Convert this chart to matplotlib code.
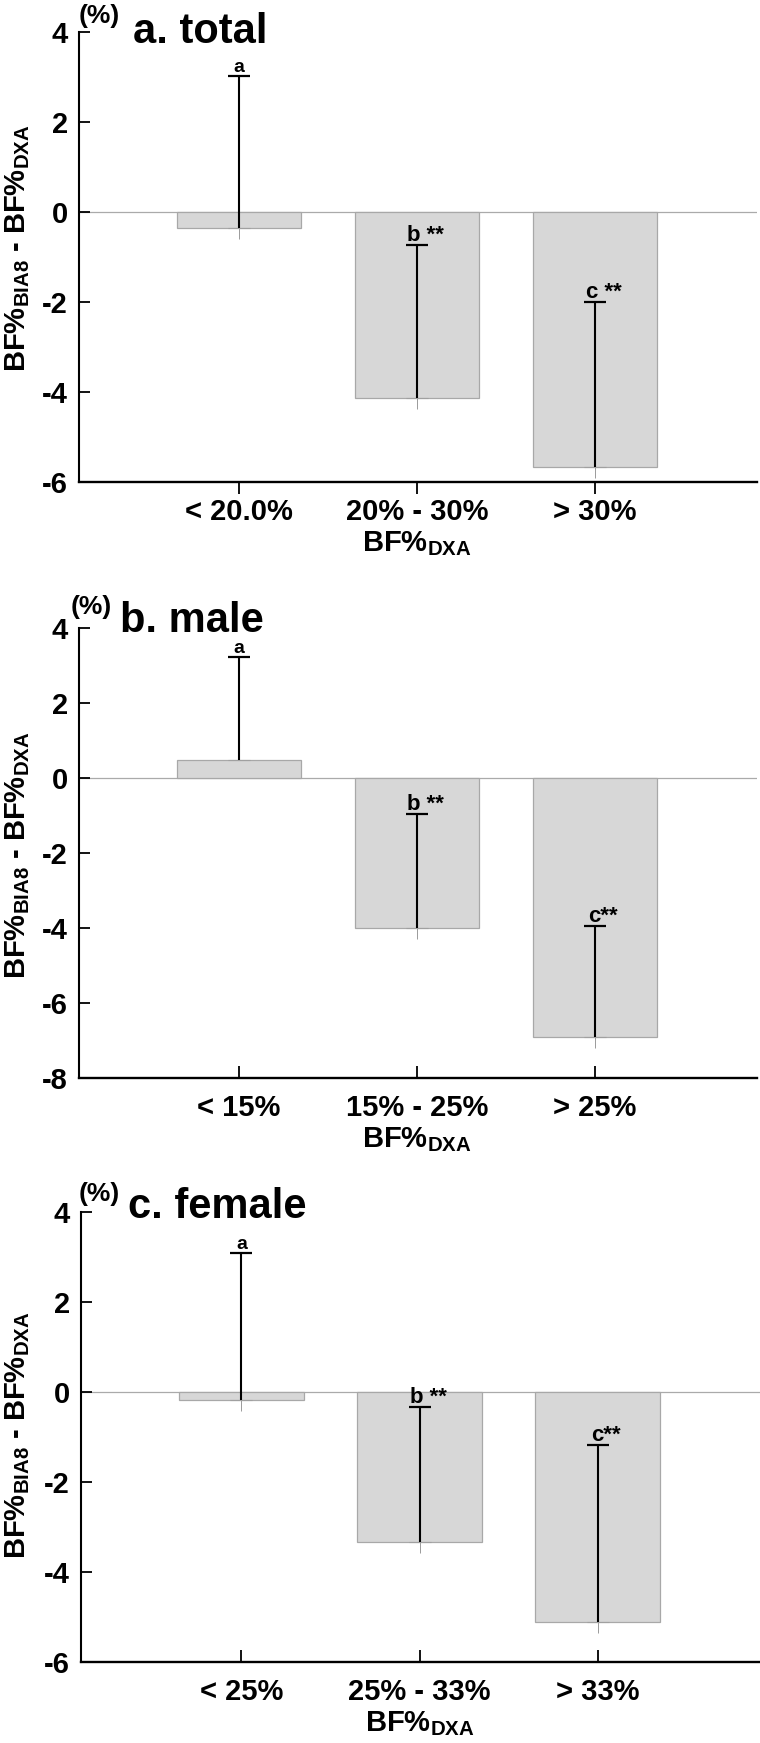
import matplotlib
matplotlib.use("Agg")
import numpy as np
import matplotlib.pyplot as plt

plt.rcParams['font.family'] = ['Liberation Sans', 'DejaVu Sans']
plt.rcParams['font.weight'] = 'bold'
plt.rcParams['mathtext.fontset'] = 'custom'
plt.rcParams['mathtext.rm'] = 'Liberation Sans:bold'
plt.rcParams['mathtext.bf'] = 'Liberation Sans:bold'

# data
panel_titles = ["a. total", "b. male", "c. female"]
categories_total = ["< 20.0%", "20% - 30%", "> 30%"]
categories_male = ["< 15%", "15% - 25%", "> 25%"]
categories_female = ["< 25%", "25% - 33%", "> 33%"]

mean_total = [-0.36, -4.13, -5.67]
mean_male = [0.48, -4.00, -6.91]
mean_female = [-0.18, -3.33, -5.11]

# upper end of the black error bar
upper_total = [3.02, -0.73, -2.00]
upper_male = [3.23, -0.96, -3.95]
upper_female = [3.09, -0.33, -1.18]

# lower end of the faint gray whisker
lower_total = [-0.60, -4.38, -5.91]
lower_male = [0.16, -4.29, -7.20]
lower_female = [-0.42, -3.58, -5.36]

marks_total = ["a", "b **", "c **"]
marks_male = ["a", "b **", "c**"]
marks_female = ["a", "b **", "c**"]

yticks_total = [4, 2, 0, -2, -4, -6]
yticks_male = [4, 2, 0, -2, -4, -6, -8]
yticks_female = [4, 2, 0, -2, -4, -6]

W, H = 760, 1743
fig = plt.figure(figsize=(W / 100, H / 100), dpi=100)

def px_axes(left, right, top, bottom):
    return fig.add_axes([left / W, 1 - bottom / H, (right - left) / W, (bottom - top) / H])

def fig_xy(x, y):
    return x / W, 1 - y / H

panels = [
    dict(box=(79, 757, 32, 482), cats=categories_total, mean=mean_total, up=upper_total,
         lo=lower_total, marks=marks_total, yt=yticks_total, tdir="out",
         title=panel_titles[0], pct=(79, 28), ttl=(133, 43), ylab_y=248),
    dict(box=(79, 757, 628, 1078), cats=categories_male, mean=mean_male, up=upper_male,
         lo=lower_male, marks=marks_male, yt=yticks_male, tdir="in",
         title=panel_titles[1], pct=(71, 619), ttl=(120, 632), ylab_y=855),
    dict(box=(81, 760, 1212, 1662), cats=categories_female, mean=mean_female, up=upper_female,
         lo=lower_female, marks=marks_female, yt=yticks_female, tdir="in",
         title=panel_titles[2], pct=(79, 1206), ttl=(128, 1218), ylab_y=1435),
]

ylab = r"BF%$_{\mathrm{BIA8}}$ - BF%$_{\mathrm{DXA}}$"
xlab = r"BF%$_{\mathrm{DXA}}$"

for p in panels:
    ax = px_axes(*p["box"])
    x = np.arange(len(p["cats"]))
    mean = np.array(p["mean"])
    up = np.array(p["up"])
    lo = np.array(p["lo"])

    ax.axhline(0, color="#aaaaaa", lw=0.9, zorder=1)

    # faint lower whisker, partly hidden behind bars
    ax.vlines(x, lo, mean, color="#9a9a9a", lw=0.7, zorder=1.5)
    ax.bar(x, mean, width=0.70, color="#d7d7d7", edgecolor="#a8a8a8",
           linewidth=0.9, zorder=2)
    ax.plot(x, mean, ls="none", marker="_", ms=16, mew=0.8, color="#a0a0a0", zorder=2.5)
    # black upper error bar, cap only at the top
    ax.vlines(x, mean, up, color="black", lw=1.5, zorder=3)
    ax.plot(x, up, ls="none", marker="_", ms=16.5, mew=1.6, color="black", zorder=3)

    for xi, yi, m in zip(x, up, p["marks"]):
        dx = 0 if m == "a" else 6
        fs = 14 if m == "a" else 16
        ax.annotate(m, xy=(xi, yi), xytext=(dx, 3), textcoords="offset points",
                    ha="center", va="baseline", fontsize=fs, fontweight="bold", zorder=4)

    ax.set_xlim(-0.9, 2.91)
    ax.set_ylim(p["yt"][-1], p["yt"][0])
    ax.set_yticks(p["yt"])
    ax.set_yticklabels(["%d" % v for v in p["yt"]])
    ax.set_xticks(x)
    ax.set_xticklabels(p["cats"])

    for s in ["top", "right"]:
        ax.spines[s].set_visible(False)
    ax.spines["left"].set_linewidth(1.5)
    ax.spines["bottom"].set_linewidth(1.7)

    xpad = 3 if p["tdir"] == "out" else 11.5
    ax.tick_params(axis="x", direction=p["tdir"], length=8.5, width=1.3,
                   labelsize=21, pad=xpad)
    ax.tick_params(axis="y", direction="in", length=8, width=1.3,
                   labelsize=21, pad=8)
    for lab in ax.get_xticklabels() + ax.get_yticklabels():
        lab.set_fontweight("bold")

    ax.annotate(xlab, xy=(1, 0), xycoords=("data", "axes fraction"),
                xytext=(0, -34), textcoords="offset points",
                ha="center", va="top", fontsize=21, fontweight="bold")

    fig.text(*fig_xy(18, p["ylab_y"]), ylab, rotation=90, ha="center",
             va="center", fontsize=21, fontweight="bold")
    fig.text(*fig_xy(*p["pct"]), "(%)", ha="left", va="bottom",
             fontsize=19, fontweight="bold")
    fig.text(*fig_xy(*p["ttl"]), p["title"], ha="left", va="baseline",
             fontsize=30, fontweight="bold")

fig.savefig("out.png", dpi=100)
